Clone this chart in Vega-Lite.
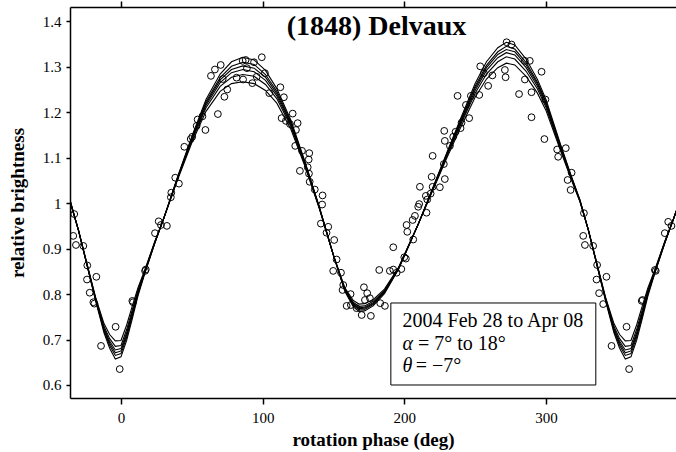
{
  "$schema": "https://vega.github.io/schema/vega-lite/v6.json",
  "width": 606,
  "height": 391,
  "autosize": {"type": "none"},
  "padding": {"left": 70, "top": 7, "right": 0, "bottom": 54},
  "background": "white",
  "config": {
    "view": {"stroke": null},
    "font": "Liberation Serif",
    "axis": {
      "grid": false,
      "domainColor": "black",
      "domainWidth": 1.5,
      "tickColor": "black",
      "tickWidth": 1.5,
      "labelColor": "black",
      "labelFont": "Liberation Serif",
      "labelFontSize": 15,
      "titleFont": "Liberation Serif",
      "titleFontSize": 19,
      "titleFontWeight": "bold",
      "titleColor": "black"
    }
  },
  "datasets": {
    "curves": [
      {"x": -36, "c1": 1.007, "c2": 1.006, "c3": 1.006, "c4": 1.005, "c5": 1.004, "c6": 1.003},
      {"x": -30, "c1": 0.940, "c2": 0.940, "c3": 0.940, "c4": 0.940, "c5": 0.940, "c6": 0.940},
      {"x": -24, "c1": 0.863, "c2": 0.864, "c3": 0.864, "c4": 0.865, "c5": 0.866, "c6": 0.867},
      {"x": -18, "c1": 0.786, "c2": 0.788, "c3": 0.789, "c4": 0.790, "c5": 0.792, "c6": 0.794},
      {"x": -12, "c1": 0.715, "c2": 0.719, "c3": 0.722, "c4": 0.725, "c5": 0.729, "c6": 0.735},
      {"x": -8, "c1": 0.681, "c2": 0.687, "c3": 0.692, "c4": 0.696, "c5": 0.702, "c6": 0.711},
      {"x": -4, "c1": 0.657, "c2": 0.665, "c3": 0.671, "c4": 0.677, "c5": 0.685, "c6": 0.697},
      {"x": 0, "c1": 0.662, "c2": 0.669, "c3": 0.675, "c4": 0.680, "c5": 0.687, "c6": 0.698},
      {"x": 4, "c1": 0.698, "c2": 0.705, "c3": 0.710, "c4": 0.715, "c5": 0.722, "c6": 0.732},
      {"x": 8, "c1": 0.746, "c2": 0.752, "c3": 0.756, "c4": 0.760, "c5": 0.766, "c6": 0.774},
      {"x": 12, "c1": 0.796, "c2": 0.800, "c3": 0.802, "c4": 0.805, "c5": 0.809, "c6": 0.814},
      {"x": 17, "c1": 0.847, "c2": 0.849, "c3": 0.850, "c4": 0.851, "c5": 0.853, "c6": 0.855},
      {"x": 24, "c1": 0.913, "c2": 0.914, "c3": 0.914, "c4": 0.915, "c5": 0.916, "c6": 0.917},
      {"x": 30, "c1": 0.965, "c2": 0.965, "c3": 0.965, "c4": 0.965, "c5": 0.965, "c6": 0.965},
      {"x": 40, "c1": 1.058, "c2": 1.057, "c3": 1.056, "c4": 1.055, "c5": 1.054, "c6": 1.052},
      {"x": 50, "c1": 1.147, "c2": 1.144, "c3": 1.142, "c4": 1.140, "c5": 1.137, "c6": 1.133},
      {"x": 60, "c1": 1.228, "c2": 1.223, "c3": 1.219, "c4": 1.215, "c5": 1.210, "c6": 1.202},
      {"x": 70, "c1": 1.284, "c2": 1.276, "c3": 1.271, "c4": 1.265, "c5": 1.257, "c6": 1.246},
      {"x": 78, "c1": 1.311, "c2": 1.301, "c3": 1.294, "c4": 1.287, "c5": 1.277, "c6": 1.263},
      {"x": 86, "c1": 1.321, "c2": 1.310, "c3": 1.302, "c4": 1.294, "c5": 1.283, "c6": 1.267},
      {"x": 94, "c1": 1.315, "c2": 1.305, "c3": 1.297, "c4": 1.289, "c5": 1.279, "c6": 1.263},
      {"x": 102, "c1": 1.292, "c2": 1.283, "c3": 1.277, "c4": 1.270, "c5": 1.261, "c6": 1.248},
      {"x": 110, "c1": 1.252, "c2": 1.246, "c3": 1.241, "c4": 1.236, "c5": 1.230, "c6": 1.220},
      {"x": 120, "c1": 1.182, "c2": 1.178, "c3": 1.175, "c4": 1.172, "c5": 1.168, "c6": 1.162},
      {"x": 130, "c1": 1.090, "c2": 1.088, "c3": 1.087, "c4": 1.085, "c5": 1.083, "c6": 1.080},
      {"x": 140, "c1": 0.992, "c2": 0.991, "c3": 0.991, "c4": 0.990, "c5": 0.989, "c6": 0.988},
      {"x": 150, "c1": 0.885, "c2": 0.885, "c3": 0.885, "c4": 0.885, "c5": 0.885, "c6": 0.885},
      {"x": 158, "c1": 0.806, "c2": 0.808, "c3": 0.809, "c4": 0.810, "c5": 0.812, "c6": 0.814},
      {"x": 164, "c1": 0.772, "c2": 0.775, "c3": 0.777, "c4": 0.779, "c5": 0.782, "c6": 0.786},
      {"x": 168, "c1": 0.762, "c2": 0.765, "c3": 0.768, "c4": 0.770, "c5": 0.773, "c6": 0.778},
      {"x": 172, "c1": 0.763, "c2": 0.766, "c3": 0.769, "c4": 0.771, "c5": 0.774, "c6": 0.779},
      {"x": 178, "c1": 0.774, "c2": 0.777, "c3": 0.779, "c4": 0.781, "c5": 0.784, "c6": 0.788},
      {"x": 186, "c1": 0.801, "c2": 0.803, "c3": 0.805, "c4": 0.806, "c5": 0.808, "c6": 0.811},
      {"x": 196, "c1": 0.855, "c2": 0.856, "c3": 0.856, "c4": 0.857, "c5": 0.858, "c6": 0.859},
      {"x": 210, "c1": 0.955, "c2": 0.955, "c3": 0.955, "c4": 0.955, "c5": 0.955, "c6": 0.955},
      {"x": 220, "c1": 1.033, "c2": 1.032, "c3": 1.031, "c4": 1.030, "c5": 1.029, "c6": 1.027},
      {"x": 230, "c1": 1.111, "c2": 1.109, "c3": 1.107, "c4": 1.105, "c5": 1.103, "c6": 1.099},
      {"x": 240, "c1": 1.188, "c2": 1.184, "c3": 1.181, "c4": 1.178, "c5": 1.174, "c6": 1.168},
      {"x": 250, "c1": 1.263, "c2": 1.257, "c3": 1.253, "c4": 1.248, "c5": 1.242, "c6": 1.233},
      {"x": 258, "c1": 1.311, "c2": 1.303, "c3": 1.298, "c4": 1.292, "c5": 1.284, "c6": 1.273},
      {"x": 266, "c1": 1.342, "c2": 1.333, "c3": 1.327, "c4": 1.320, "c5": 1.311, "c6": 1.298},
      {"x": 272, "c1": 1.354, "c2": 1.345, "c3": 1.338, "c4": 1.331, "c5": 1.322, "c6": 1.308},
      {"x": 278, "c1": 1.348, "c2": 1.339, "c3": 1.333, "c4": 1.326, "c5": 1.317, "c6": 1.304},
      {"x": 286, "c1": 1.317, "c2": 1.309, "c3": 1.304, "c4": 1.298, "c5": 1.290, "c6": 1.279},
      {"x": 294, "c1": 1.272, "c2": 1.266, "c3": 1.262, "c4": 1.257, "c5": 1.251, "c6": 1.242},
      {"x": 300, "c1": 1.228, "c2": 1.223, "c3": 1.220, "c4": 1.216, "c5": 1.211, "c6": 1.204},
      {"x": 310, "c1": 1.132, "c2": 1.129, "c3": 1.127, "c4": 1.125, "c5": 1.122, "c6": 1.118},
      {"x": 318, "c1": 1.059, "c2": 1.057, "c3": 1.056, "c4": 1.055, "c5": 1.053, "c6": 1.051},
      {"x": 324, "c1": 1.007, "c2": 1.006, "c3": 1.006, "c4": 1.005, "c5": 1.004, "c6": 1.003},
      {"x": 330, "c1": 0.940, "c2": 0.940, "c3": 0.940, "c4": 0.940, "c5": 0.940, "c6": 0.940},
      {"x": 336, "c1": 0.863, "c2": 0.864, "c3": 0.864, "c4": 0.865, "c5": 0.866, "c6": 0.867},
      {"x": 342, "c1": 0.786, "c2": 0.788, "c3": 0.789, "c4": 0.790, "c5": 0.792, "c6": 0.794},
      {"x": 348, "c1": 0.715, "c2": 0.719, "c3": 0.722, "c4": 0.725, "c5": 0.729, "c6": 0.735},
      {"x": 352, "c1": 0.681, "c2": 0.687, "c3": 0.692, "c4": 0.696, "c5": 0.702, "c6": 0.711},
      {"x": 356, "c1": 0.657, "c2": 0.665, "c3": 0.671, "c4": 0.677, "c5": 0.685, "c6": 0.697},
      {"x": 360, "c1": 0.662, "c2": 0.669, "c3": 0.675, "c4": 0.680, "c5": 0.687, "c6": 0.698},
      {"x": 364, "c1": 0.698, "c2": 0.705, "c3": 0.710, "c4": 0.715, "c5": 0.722, "c6": 0.732},
      {"x": 368, "c1": 0.746, "c2": 0.752, "c3": 0.756, "c4": 0.760, "c5": 0.766, "c6": 0.774},
      {"x": 372, "c1": 0.796, "c2": 0.800, "c3": 0.802, "c4": 0.805, "c5": 0.809, "c6": 0.814},
      {"x": 377, "c1": 0.847, "c2": 0.849, "c3": 0.850, "c4": 0.851, "c5": 0.853, "c6": 0.855},
      {"x": 384, "c1": 0.913, "c2": 0.914, "c3": 0.914, "c4": 0.915, "c5": 0.916, "c6": 0.917},
      {"x": 390, "c1": 0.965, "c2": 0.965, "c3": 0.965, "c4": 0.965, "c5": 0.965, "c6": 0.965},
      {"x": 392, "c1": 0.983, "c2": 0.983, "c3": 0.983, "c4": 0.983, "c5": 0.983, "c6": 0.983}
    ],
    "points": [
      {"x": -33.0, "y": 0.976}, {"x": -33.7, "y": 0.928}, {"x": -31.8, "y": 0.908}, {"x": -26.6, "y": 0.906},
      {"x": -23.8, "y": 0.863}, {"x": -24.0, "y": 0.832}, {"x": -17.4, "y": 0.838}, {"x": -22.1, "y": 0.803},
      {"x": -18.8, "y": 0.779}, {"x": -19.5, "y": 0.782}, {"x": -3.8, "y": 0.728}, {"x": -14.1, "y": 0.686},
      {"x": -0.9, "y": 0.635},
      {"x": 8.0, "y": 0.785}, {"x": 8.5, "y": 0.782}, {"x": 17.0, "y": 0.851}, {"x": 17.5, "y": 0.854},
      {"x": 24.0, "y": 0.934}, {"x": 26.6, "y": 0.960}, {"x": 28.2, "y": 0.952}, {"x": 32.4, "y": 0.950},
      {"x": 35.5, "y": 1.023}, {"x": 35.2, "y": 1.013}, {"x": 38.3, "y": 1.056}, {"x": 40.9, "y": 1.043},
      {"x": 44.7, "y": 1.124}, {"x": 49.2, "y": 1.141}, {"x": 50.3, "y": 1.146}, {"x": 53.4, "y": 1.170},
      {"x": 54.1, "y": 1.184}, {"x": 57.5, "y": 1.191}, {"x": 59.6, "y": 1.161}, {"x": 68.4, "y": 1.196},
      {"x": 63.5, "y": 1.280}, {"x": 66.3, "y": 1.294}, {"x": 71.8, "y": 1.273}, {"x": 70.4, "y": 1.304},
      {"x": 75.0, "y": 1.250}, {"x": 73.0, "y": 1.234}, {"x": 81.6, "y": 1.276}, {"x": 86.2, "y": 1.272},
      {"x": 85.9, "y": 1.313}, {"x": 88.0, "y": 1.315}, {"x": 88.9, "y": 1.297}, {"x": 92.7, "y": 1.264},
      {"x": 93.9, "y": 1.310}, {"x": 95.8, "y": 1.278}, {"x": 99.4, "y": 1.321}, {"x": 101.6, "y": 1.286},
      {"x": 104.7, "y": 1.242}, {"x": 112.5, "y": 1.255}, {"x": 115.0, "y": 1.233}, {"x": 113.4, "y": 1.187},
      {"x": 116.4, "y": 1.181}, {"x": 121.2, "y": 1.197}, {"x": 119.3, "y": 1.174}, {"x": 124.7, "y": 1.176},
      {"x": 123.5, "y": 1.161}, {"x": 123.0, "y": 1.126}, {"x": 127.8, "y": 1.115}, {"x": 132.9, "y": 1.110},
      {"x": 132.5, "y": 1.096}, {"x": 126.3, "y": 1.071}, {"x": 131.8, "y": 1.079}, {"x": 132.7, "y": 1.065},
      {"x": 133.2, "y": 1.047}, {"x": 136.8, "y": 1.030}, {"x": 142.3, "y": 1.017}, {"x": 142.0, "y": 0.997},
      {"x": 141.1, "y": 0.955}, {"x": 146.3, "y": 0.948}, {"x": 145.1, "y": 0.935}, {"x": 150.5, "y": 0.919},
      {"x": 152.2, "y": 0.876}, {"x": 149.8, "y": 0.851}, {"x": 155.3, "y": 0.847}, {"x": 156.9, "y": 0.820},
      {"x": 156.4, "y": 0.809}, {"x": 162.1, "y": 0.800}, {"x": 159.3, "y": 0.774}, {"x": 162.3, "y": 0.776},
      {"x": 166.3, "y": 0.769}, {"x": 169.9, "y": 0.754}, {"x": 176.4, "y": 0.752}, {"x": 171.5, "y": 0.815},
      {"x": 173.8, "y": 0.802}, {"x": 175.7, "y": 0.791}, {"x": 172.2, "y": 0.787}, {"x": 183.0, "y": 0.780},
      {"x": 186.3, "y": 0.774}, {"x": 182.3, "y": 0.853}, {"x": 189.8, "y": 0.851}, {"x": 192.2, "y": 0.854},
      {"x": 194.6, "y": 0.847}, {"x": 197.9, "y": 0.855}, {"x": 192.2, "y": 0.903}, {"x": 200.0, "y": 0.881},
      {"x": 201.1, "y": 0.878}, {"x": 201.6, "y": 0.952}, {"x": 202.1, "y": 0.937}, {"x": 206.3, "y": 0.920},
      {"x": 205.9, "y": 0.963}, {"x": 207.5, "y": 0.972}, {"x": 209.8, "y": 0.992}, {"x": 210.5, "y": 0.998},
      {"x": 211.0, "y": 1.036}, {"x": 215.7, "y": 0.979}, {"x": 215.2, "y": 1.016}, {"x": 216.2, "y": 1.008},
      {"x": 218.6, "y": 1.021}, {"x": 219.3, "y": 1.058}, {"x": 220.0, "y": 1.036}, {"x": 225.1, "y": 1.035},
      {"x": 228.6, "y": 1.053}, {"x": 220.0, "y": 1.104}, {"x": 227.9, "y": 1.086}, {"x": 228.6, "y": 1.137},
      {"x": 228.2, "y": 1.159}, {"x": 232.2, "y": 1.126}, {"x": 234.5, "y": 1.146}, {"x": 236.2, "y": 1.157},
      {"x": 239.7, "y": 1.165}, {"x": 240.4, "y": 1.177}, {"x": 245.8, "y": 1.187}, {"x": 243.5, "y": 1.216},
      {"x": 237.6, "y": 1.236}, {"x": 247.0, "y": 1.236}, {"x": 252.9, "y": 1.238}, {"x": 259.2, "y": 1.258},
      {"x": 253.6, "y": 1.301}, {"x": 256.2, "y": 1.286}, {"x": 262.2, "y": 1.281}, {"x": 271.0, "y": 1.293},
      {"x": 271.5, "y": 1.277}, {"x": 272.2, "y": 1.354}, {"x": 275.7, "y": 1.349}, {"x": 281.0, "y": 1.240},
      {"x": 285.1, "y": 1.272}, {"x": 285.1, "y": 1.313}, {"x": 288.6, "y": 1.313}, {"x": 296.9, "y": 1.289},
      {"x": 289.8, "y": 1.244}, {"x": 289.8, "y": 1.189}, {"x": 299.6, "y": 1.228}, {"x": 298.9, "y": 1.141},
      {"x": 307.9, "y": 1.118}, {"x": 314.0, "y": 1.121}, {"x": 308.6, "y": 1.102}, {"x": 318.1, "y": 1.067},
      {"x": 315.3, "y": 1.051}, {"x": 317.4, "y": 1.029}, {"x": 326.8, "y": 0.978},
      {"x": 326.3, "y": 0.928}, {"x": 327.5, "y": 0.908}, {"x": 333.3, "y": 0.906}, {"x": 336.1, "y": 0.864},
      {"x": 335.7, "y": 0.832}, {"x": 342.7, "y": 0.838}, {"x": 337.5, "y": 0.802}, {"x": 340.4, "y": 0.778},
      {"x": 356.9, "y": 0.728}, {"x": 346.3, "y": 0.686}, {"x": 358.7, "y": 0.635}, {"x": 368.2, "y": 0.787},
      {"x": 367.6, "y": 0.785}, {"x": 376.9, "y": 0.853}, {"x": 377.5, "y": 0.851}, {"x": 383.9, "y": 0.934},
      {"x": 386.3, "y": 0.959}, {"x": 388.6, "y": 0.950}
    ]
  },
  "layer": [
    {
      "data": {"name": "curves"},
      "transform": [{"fold": ["c1", "c2", "c3", "c4", "c5", "c6"], "as": ["curve", "yv"]}],
      "mark": {"type": "line", "color": "black", "strokeWidth": 1.1, "clip": true},
      "encoding": {
        "x": {
          "field": "x", "type": "quantitative",
          "scale": {"domain": [-36, 391.8], "nice": false, "zero": false},
          "axis": {
            "orient": "bottom", "values": [0, 100, 200, 300], "tickSize": 6, "labelPadding": 6,
            "title": "rotation phase (deg)", "titlePadding": 5
          }
        },
        "y": {
          "field": "yv", "type": "quantitative",
          "scale": {"domain": [0.5714, 1.4315], "nice": false, "zero": false},
          "axis": {
            "orient": "left", "values": [0.6, 0.7, 0.8, 0.9, 1.0, 1.1, 1.2, 1.3, 1.4], "format": "~g",
            "tickSize": 4, "labelPadding": 5, "title": "relative brightness", "titlePadding": 15
          }
        },
        "detail": {"field": "curve", "type": "nominal"}
      }
    },
    {
      "data": {"name": "points"},
      "mark": {"type": "point", "shape": "circle", "filled": false, "stroke": "black", "strokeWidth": 1, "size": 46, "opacity": 1, "clip": true},
      "encoding": {
        "x": {
          "field": "x", "type": "quantitative",
          "axis": {"orient": "top", "values": [0, 100, 200, 300], "tickSize": 6, "labels": false, "title": null}
        },
        "y": {"field": "y", "type": "quantitative", "axis": null}
      }
    },
    {
      "data": {"values": [{}]},
      "mark": {"type": "rect", "fill": "white", "fillOpacity": 0, "stroke": "black", "strokeWidth": 1},
      "encoding": {
        "x": {"datum": 190.5, "type": "quantitative", "axis": null},
        "x2": {"datum": 335.2},
        "y": {"datum": 0.7804, "type": "quantitative", "axis": null},
        "y2": {"datum": 0.6}
      }
    },
    {
      "data": {"values": [{}]},
      "mark": {"type": "text", "text": "(1848) Delvaux", "font": "Liberation Serif", "fontWeight": "bold", "fontSize": 28, "align": "center", "baseline": "alphabetic", "color": "black"},
      "encoding": {
        "x": {"datum": 180.35, "type": "quantitative", "axis": null},
        "y": {"datum": 1.3699, "type": "quantitative", "axis": null}
      }
    },
    {
      "data": {"values": [{}]},
      "mark": {"type": "text", "text": "2004 Feb 28 to Apr 08", "font": "Liberation Serif", "fontSize": 20, "align": "left", "baseline": "alphabetic", "color": "black"},
      "encoding": {
        "x": {"datum": 198.8, "type": "quantitative", "axis": null},
        "y": {"datum": 0.7269, "type": "quantitative", "axis": null}
      }
    },
    {
      "data": {"values": [{}]},
      "mark": {"type": "text", "text": "α", "font": "Liberation Serif", "fontStyle": "italic", "fontSize": 20, "align": "left", "baseline": "alphabetic", "color": "black"},
      "encoding": {
        "x": {"datum": 198.8, "type": "quantitative", "axis": null},
        "y": {"datum": 0.677, "type": "quantitative", "axis": null}
      }
    },
    {
      "data": {"values": [{}]},
      "mark": {"type": "text", "text": "= 7° to 18°", "font": "Liberation Serif", "fontSize": 20, "align": "left", "baseline": "alphabetic", "color": "black"},
      "encoding": {
        "x": {"datum": 209.6, "type": "quantitative", "axis": null},
        "y": {"datum": 0.677, "type": "quantitative", "axis": null}
      }
    },
    {
      "data": {"values": [{}]},
      "mark": {"type": "text", "text": "θ", "font": "Liberation Serif", "fontStyle": "italic", "fontSize": 20, "align": "left", "baseline": "alphabetic", "color": "black"},
      "encoding": {
        "x": {"datum": 198.8, "type": "quantitative", "axis": null},
        "y": {"datum": 0.6293, "type": "quantitative", "axis": null}
      }
    },
    {
      "data": {"values": [{}]},
      "mark": {"type": "text", "text": "= −7°", "font": "Liberation Serif", "fontSize": 20, "align": "left", "baseline": "alphabetic", "color": "black"},
      "encoding": {
        "x": {"datum": 208.0, "type": "quantitative", "axis": null},
        "y": {"datum": 0.6293, "type": "quantitative", "axis": null}
      }
    }
  ],
  "resolve": {"axis": {"x": "independent", "y": "independent"}}
}
